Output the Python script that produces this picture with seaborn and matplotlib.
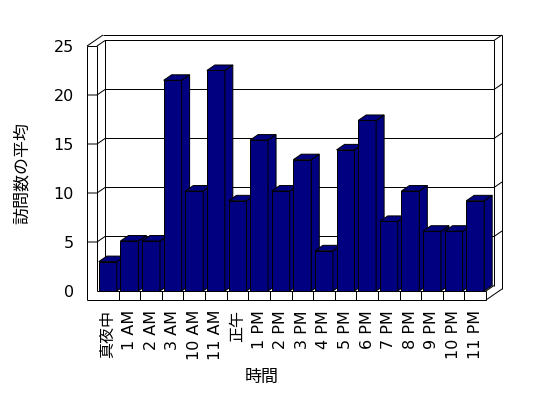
import matplotlib
matplotlib.use("Agg")
import matplotlib.pyplot as plt
import seaborn as sns
import pandas as pd
from matplotlib.patches import Polygon

# --- data ---
hours = ["真夜中", "1 AM", "2 AM", "3 AM", "10 AM", "11 AM", "正午", "1 PM", "2 PM",
         "3 PM", "4 PM", "5 PM", "6 PM", "7 PM", "8 PM", "9 PM", "10 PM", "11 PM"]
visits = [3.0, 5.1, 5.1, 21.5, 10.2, 22.5, 9.2, 15.4, 10.2,
          13.4, 4.1, 14.4, 17.4, 7.1, 10.2, 6.1, 6.1, 9.2]
y_ticks = [0, 5, 10, 15, 20, 25]

df = pd.DataFrame({"hour": hours, "visits": visits})

sns.set_style("white")
plt.rcParams["font.family"] = ["DejaVu Sans", "Noto Sans CJK JP"]
plt.rcParams["text.color"] = "black"
plt.rcParams["axes.labelcolor"] = "black"
plt.rcParams["xtick.color"] = "black"
plt.rcParams["ytick.color"] = "black"

DPI = 72
fig = plt.figure(figsize=(548 / DPI, 398 / DPI), dpi=DPI)
ax_w, ax_h = 389, 245
ax = fig.add_axes([97 / 548, 1 - 291 / 398, ax_w / 548, ax_h / 398])

sns.barplot(data=df, x="hour", y="visits", color="#000080", saturation=1,
            width=0.83, edgecolor="black", linewidth=1, ax=ax)

ax.set_xlim(-0.5, len(hours) - 0.5)
ax.set_ylim(0, 25)
for s in ax.spines.values():
    s.set_visible(False)

# pixel -> data conversion for the fake 3D depth
pxx = ax_w / len(hours)
pxy = ax_h / 25
DX, DY = 8, 5.5  # depth offset in px (right, up)


def pt(x, y, ox=0, oy=0):
    return (x + ox / pxx, y + oy / pxy)


def seg(*pts, z=1):
    xs = [p[0] for p in pts]
    ys = [p[1] for p in pts]
    ax.plot(xs, ys, color="black", lw=1, clip_on=False, zorder=z,
            solid_capstyle="butt")


# --- 3D faces for each bar ---
for i, p in enumerate(ax.patches):
    z = 3 + i * 0.01
    p.set_zorder(z)
    x0, w, h = p.get_x(), p.get_width(), p.get_height()
    side = [pt(x0 + w, 0), pt(x0 + w, 0, DX, DY), pt(x0 + w, h, DX, DY), pt(x0 + w, h)]
    top = [pt(x0, h), pt(x0 + w, h), pt(x0 + w, h, DX, DY), pt(x0, h, DX, DY)]
    for poly in (side, top):
        ax.add_patch(Polygon(poly, closed=True, facecolor="#000080",
                             edgecolor="black", lw=1, zorder=z, clip_on=False))

# --- walls and floor ---
xL, xR = -0.5, len(hours) - 0.5
# left wall slab
seg(pt(xL, 25, -10), pt(xL, 0, -10, -9))
seg(pt(xL, 25), pt(xL, 0))
seg(pt(xL, 25, -10), pt(xL, 25))
seg(pt(xL, 25, -10), pt(xL, 25, -10 + 2 * DX, 2 * DY))
seg(pt(xL, 25), pt(xL, 25, DX, DY))
# back wall
seg(pt(xL, 25, -10 + 2 * DX, 2 * DY), pt(xR, 25, 2 * DX, 2 * DY))
seg(pt(xL, 25, DX, DY), pt(xR, 25, DX, DY), pt(xR, 25, 2 * DX, 2 * DY))
seg(pt(xL, 25, DX, DY), pt(xL, 0, DX, DY))
seg(pt(xR, 25, DX, DY), pt(xR, 0, DX, DY))
seg(pt(xR, 25, 2 * DX, 2 * DY), pt(xR, 0, 2 * DX, -9 + 2 * DY))
# gridlines on the walls
for v in y_ticks[1:-1]:
    seg(pt(xL, v, -10), pt(xL, v), pt(xL, v, DX, DY), pt(xR, v, DX, DY),
        pt(xR, v, 2 * DX, 2 * DY))
# floor slab
seg(pt(xL, 0, -10, -9), pt(xR, 0, 0, -9))
seg(pt(xL, 0), pt(xR, 0))
seg(pt(xR, 0), pt(xR, 0, 0, -9))
seg(pt(xR, 0), pt(xR, 0, DX, DY))
seg(pt(xR, 0, 0, -9), pt(xR, 0, 2 * DX, -9 + 2 * DY))
for k in range(1, len(hours)):
    seg(pt(xL + k, 0), pt(xL + k, 0, 0, -9), z=5)

# --- ticks and labels ---
ax.set_yticks(y_ticks)
ax.set_yticklabels([str(v) for v in y_ticks], fontsize=16)
ax.tick_params(axis="y", length=0, pad=23)
ax.tick_params(axis="x", length=0, pad=19, labelsize=16)
plt.setp(ax.get_xticklabels(), rotation=90, va="top", ha="center")

ax.set_xlabel("時間", fontsize=17, va="center")
ax.xaxis.set_label_coords((262 - 97) / ax_w, (291 - 377) / ax_h)
ax.set_ylabel("訪問数の平均", fontsize=17, va="center")
ax.yaxis.set_label_coords((22 - 97) / ax_w, (291 - 173) / ax_h)

fig.savefig("out.png", dpi=DPI, facecolor="white")
